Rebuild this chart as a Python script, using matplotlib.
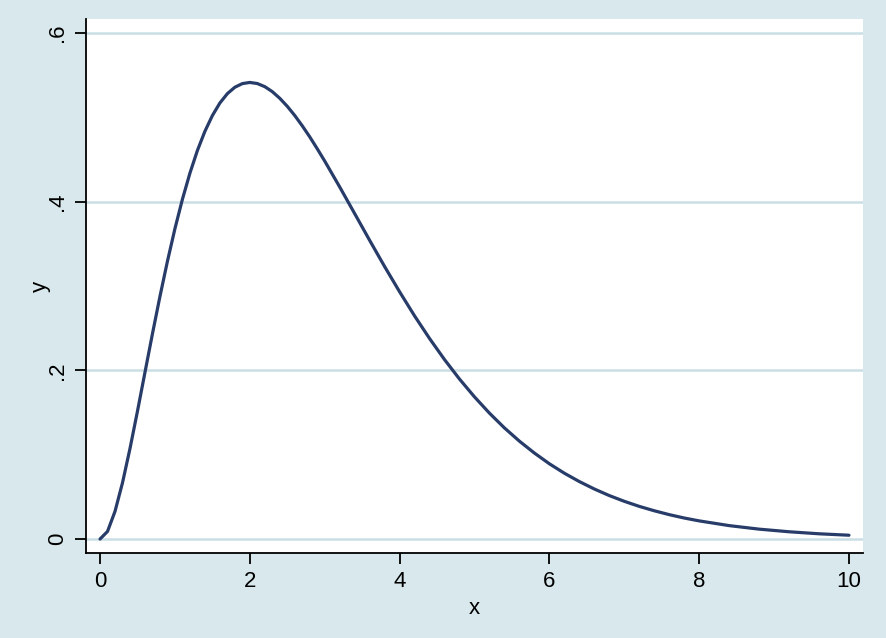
import matplotlib.pyplot as plt
from matplotlib.ticker import FuncFormatter

# values
x_vals = [0.0, 0.1, 0.2, 0.3, 0.4, 0.5, 0.6, 0.7, 0.8, 0.9, 1.0, 1.1, 1.2, 1.3, 1.4, 1.5,
          1.6, 1.7, 1.8, 1.9, 2.0, 2.1, 2.2, 2.3, 2.4, 2.5, 2.6, 2.7, 2.8, 2.9, 3.0,
          3.2, 3.4, 3.6, 3.8, 4.0, 4.2, 4.4, 4.6, 4.8, 5.0,
          5.2, 5.4, 5.6, 5.8, 6.0, 6.2, 6.4, 6.6, 6.8, 7.0, 7.2, 7.4, 7.6, 7.8, 8.0,
          8.4, 8.8, 9.2, 9.6, 10.0]
y_vals = [0.0, 0.0090, 0.0328, 0.0667, 0.1073, 0.1516, 0.1976, 0.2434, 0.2876, 0.3293, 0.3679,
          0.4028, 0.4337, 0.4606, 0.4833, 0.5020, 0.5169, 0.5280, 0.5356, 0.5399, 0.5413,
          0.5400, 0.5363, 0.5304, 0.5225, 0.5130, 0.5021, 0.4899, 0.4768, 0.4627, 0.4481,
          0.4174, 0.3858, 0.3541, 0.3230, 0.2931, 0.2645, 0.2377, 0.2127, 0.1896, 0.1685,
          0.1492, 0.1317, 0.1160, 0.1019, 0.0892, 0.0780, 0.0681, 0.0593, 0.0515, 0.0447,
          0.0387, 0.0335, 0.0289, 0.0249, 0.0215, 0.0159, 0.0117, 0.0086, 0.0062, 0.0045]
x_ticks = [0, 2, 4, 6, 8, 10]
y_ticks = [0, 0.2, 0.4, 0.6]

bg = "#d8e8ec"
grid_col = "#cadfe5"
line_col = "#283c6a"

plt.rcParams["font.family"] = ["Liberation Sans", "DejaVu Sans"]

fig = plt.figure(figsize=(8.86, 6.38), dpi=100, facecolor=bg)
ax = fig.add_axes([0.0971, 0.1332, 0.8769, 0.8370])
ax.set_facecolor("white")

for yt in y_ticks:
    ax.axhline(yt, color=grid_col, lw=1.8, zorder=0)

ax.plot(x_vals, y_vals, color=line_col, lw=2.3, solid_capstyle="round", solid_joinstyle="round")

ax.set_xlim(-0.187, 10.187)
ax.set_ylim(-0.0166, 0.6165)
ax.set_xticks(x_ticks)
ax.set_yticks(y_ticks)
ax.yaxis.set_major_formatter(FuncFormatter(lambda v, p: "0" if v == 0 else ("%.1f" % v).lstrip("0")))

for s in ["top", "right"]:
    ax.spines[s].set_visible(False)
for s in ["left", "bottom"]:
    ax.spines[s].set_linewidth(1.3)
    ax.spines[s].set_color("black")

ax.tick_params(axis="both", length=8, width=1.3, labelsize=16, pad=5)
for lab in ax.get_yticklabels():
    lab.set_rotation(90)
    lab.set_va("center")

ax.set_xlabel("x", fontsize=16, labelpad=4)
ax.set_ylabel("y", fontsize=16, labelpad=-3)

fig.savefig("out.png", dpi=100, facecolor=bg)
